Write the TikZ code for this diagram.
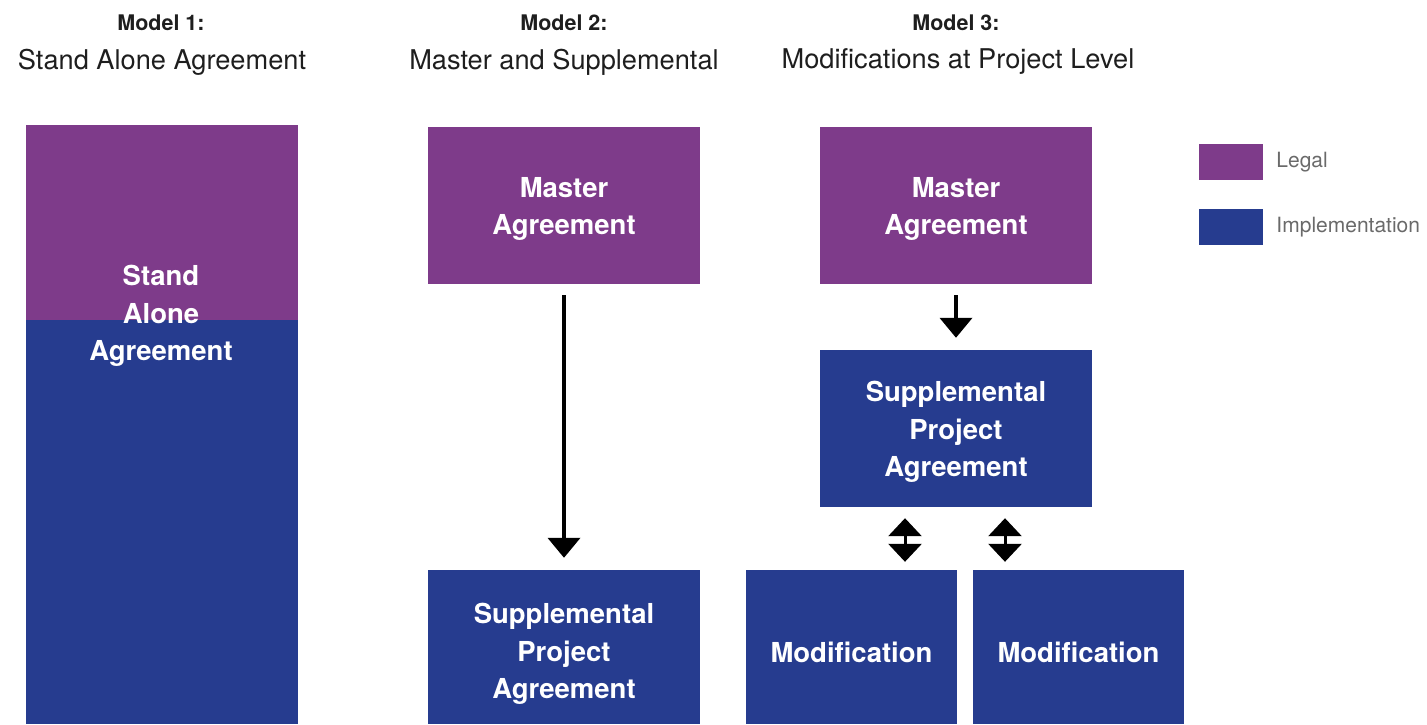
\documentclass[tikz,border=0pt]{standalone}
\usepackage{fontspec}
\setmainfont{TeX Gyre Heros}
\usetikzlibrary{arrows.meta,positioning}
\definecolor{legal}{HTML}{7E3B8A}
\definecolor{impl}{HTML}{263C8F}
\definecolor{ink}{HTML}{1E1E1E}
\definecolor{keyink}{HTML}{6A6A6A}

\begin{document}
\begin{tikzpicture}[x=1pt, y=-1pt,
  legalbox/.style={shape=rectangle, fill=legal, inner sep=0pt, minimum width=272pt, minimum height=157pt},
  implbox/.style={shape=rectangle, fill=impl, inner sep=0pt, minimum width=272pt, minimum height=157pt},
  boxtext/.style={text=white, align=center, inner sep=0pt, font=\fontsize{27.5}{37.5}\selectfont\bfseries},
  modelhead/.style={text=ink, inner sep=0pt, font=\fontsize{21.5}{26}\selectfont\bfseries},
  subhead/.style={text=ink, inner sep=0pt, font=\fontsize{27.2}{30}\selectfont},
  keytext/.style={text=keyink, inner sep=0pt, font=\fontsize{21}{24}\selectfont},
  linkarrow/.style={-{Triangle[width=32pt,length=20pt]}, line width=4pt},
  twoway/.style={{Triangle[width=33pt,length=18pt]}-{Triangle[width=33pt,length=18pt]}, line width=3pt}]
\useasboundingbox (0,0) rectangle (1427,724);

% titles
\node [modelhead] (m1-head) at (161,23) {Model 1:};
\node [subhead] (m1-sub) at (162,62) {Stand Alone Agreement};
\node [modelhead] (m2-head) at (564,23) {Model 2:};
\node [subhead] (m2-sub) at (564,62) {Master and Supplemental};
\node [modelhead] (m3-head) at (956,23) {Model 3:};
\node [subhead] (m3-sub) at (958,62) {Modifications at Project Level};

% model 1
\node [legalbox, minimum height=195pt] (sa-top) at (162,222.5) {};
\node [implbox, minimum height=404pt] (sa-bot) at (162,522) {};
\node [boxtext] (sa-text) at (161,316) {Stand\\Alone\\Agreement};

% model 2
\node [legalbox] (master2) at (564,205.5) {};
\node [boxtext] (master2-text) at (564,209) {Master\\Agreement};
\node [implbox, minimum height=154pt] (supp2) at (564,647) {};
\node [boxtext] (supp2-text) at (564,654) {Supplemental\\Project\\Agreement};

% model 3
\node [legalbox] (master3) at (956,205.5) {};
\node [boxtext] (master3-text) at (956,209) {Master\\Agreement};
\node [implbox] (supp3) at (956,428.5) {};
\node [boxtext] (supp3-text) at (956,432) {Supplemental\\Project\\Agreement};
\node [implbox, minimum width=211pt, minimum height=154pt] (mod1) at (851.5,647) {};
\node [boxtext] (mod1-text) at (851.5,652) {Modification};
\node [implbox, minimum width=211pt, minimum height=154pt] (mod2) at (1078.5,647) {};
\node [boxtext] (mod2-text) at (1078.5,652) {Modification};

% legend
\node [legalbox, minimum width=64pt, minimum height=36pt] (key-legal) at (1231,162) {};
\node [keytext, right=13pt of key-legal] (key-legal-text) {Legal};
\node [implbox, minimum width=64pt, minimum height=36pt] (key-impl) at (1231,227) {};
\node [keytext, right=13pt of key-impl] (key-impl-text) {Implementation};

\draw[linkarrow, shorten <=11pt, shorten >=12pt] (master2) -- (supp2);
\draw[linkarrow, shorten <=11pt, shorten >=12pt] (master3) -- (supp3);
\draw[twoway, shorten <=11pt, shorten >=8pt] ([xshift=-51pt]supp3.south) -- ([xshift=53.5pt]mod1.north);
\draw[twoway, shorten <=11pt, shorten >=8pt] ([xshift=49pt]supp3.south) -- ([xshift=-73.5pt]mod2.north);
\end{tikzpicture}
\end{document}
